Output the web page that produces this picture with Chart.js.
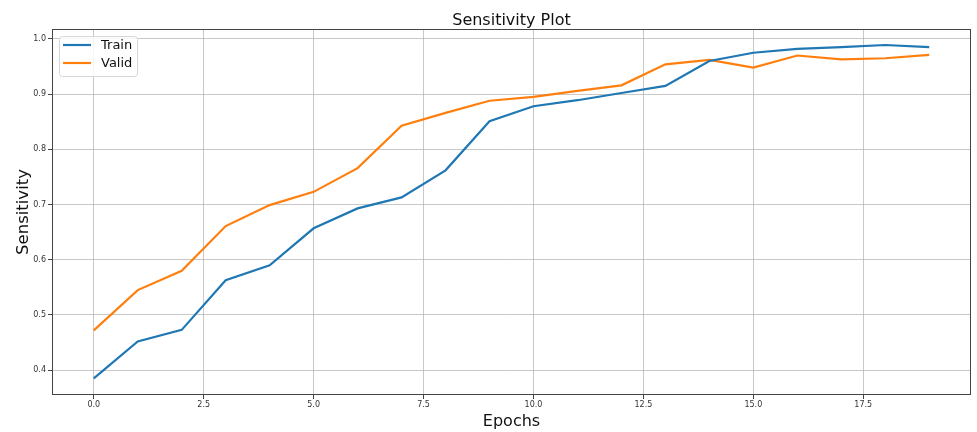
<!DOCTYPE html>
<html>
<head>
<meta charset="utf-8">
<script src="https://cdn.jsdelivr.net/npm/chart.js@4"></script>
<style>
html,body{margin:0;padding:0;background:#fff;}
canvas{display:block;}
</style>
</head>
<body>
<canvas id="c" width="977" height="432"></canvas>
<script>
const epochs = [0,1,2,3,4,5,6,7,8,9,10,11,12,13,14,15,16,17,18,19];
const trainSens = [0.385,0.452,0.473,0.563,0.590,0.657,0.693,0.713,0.762,0.851,0.878,0.889,0.902,0.915,0.960,0.975,0.982,0.985,0.989,0.985];
const validSens = [0.472,0.545,0.580,0.661,0.699,0.723,0.766,0.843,0.866,0.888,0.895,0.906,0.916,0.954,0.962,0.948,0.970,0.963,0.965,0.971];
const xTickValues = [0,2.5,5,7.5,10,12.5,15,17.5];
const yTickValues = [0.4,0.5,0.6,0.7,0.8,0.9,1.0];
const seriesNames = ['Train','Valid'];
const chartTitle = 'Sensitivity Plot';
const xTitle = 'Epochs';
const yTitle = 'Sensitivity';

const BLUE = '#1f77b4', ORANGE = '#ff7f0e';
const FONT = '"DejaVu Sans", sans-serif';

const framePlugin = {
  id: 'frameAndExtras',
  afterDatasetsDraw(chart) {
    const {ctx, chartArea: a} = chart;
    ctx.save();
    // frame
    ctx.strokeStyle = '#444';
    ctx.lineWidth = 1;
    ctx.strokeRect(Math.round(a.left) + 0.5, Math.round(a.top) + 0.5, Math.round(a.right - a.left) - 1, Math.round(a.bottom - a.top) - 1);
    // title
    ctx.fillStyle = '#111';
    ctx.font = '16px ' + FONT;
    ctx.textAlign = 'center';
    ctx.textBaseline = 'alphabetic';
    ctx.fillText(chartTitle, (a.left + a.right) / 2, a.top - 4);
    // legend
    const bx = a.left + 7, by = a.top + 7, bw = 78, bh = 40;
    ctx.fillStyle = 'rgba(255,255,255,0.85)';
    ctx.strokeStyle = '#d6d6d6';
    ctx.beginPath();
    if (ctx.roundRect) ctx.roundRect(bx + 0.5, by + 0.5, bw, bh, 3); else ctx.rect(bx + 0.5, by + 0.5, bw, bh);
    ctx.fill();
    ctx.stroke();
    const cols = [BLUE, ORANGE];
    ctx.font = '13px ' + FONT;
    ctx.textAlign = 'left';
    ctx.textBaseline = 'middle';
    seriesNames.forEach((n, i) => {
      const y = by + 9 + i * 18;
      ctx.strokeStyle = cols[i];
      ctx.lineWidth = 2.2;
      ctx.beginPath();
      ctx.moveTo(bx + 4, y);
      ctx.lineTo(bx + 32, y);
      ctx.stroke();
      ctx.fillStyle = '#111';
      ctx.fillText(n, bx + 42, y + 1);
    });
    ctx.restore();
  }
};

const toPts = arr => epochs.map((e, i) => ({x: e, y: arr[i]}));

new Chart(document.getElementById('c'), {
  type: 'line',
  data: {
    datasets: [
      {label: seriesNames[0], data: toPts(trainSens), borderColor: BLUE, backgroundColor: BLUE, borderWidth: 2.2, pointRadius: 0, tension: 0, fill: false},
      {label: seriesNames[1], data: toPts(validSens), borderColor: ORANGE, backgroundColor: ORANGE, borderWidth: 2.2, pointRadius: 0, tension: 0, fill: false}
    ]
  },
  options: {
    responsive: false,
    animation: false,
    devicePixelRatio: 1,
    layout: {padding: {top: 29, right: 6, left: 0, bottom: 0}},
    plugins: {legend: {display: false}, title: {display: false}, tooltip: {enabled: false}},
    scales: {
      x: {
        type: 'linear',
        min: -0.95, max: 19.95,
        afterBuildTicks: s => { s.ticks = xTickValues.map(v => ({value: v})); },
        afterFit: s => { s.height = 37; },
        ticks: {callback: v => v.toFixed(1), font: {family: FONT, size: 8}, color: '#333', padding: 1, maxRotation: 0, autoSkip: false},
        grid: {color: 'rgba(176,176,176,0.7)', lineWidth: 1, tickColor: '#444', tickLength: 4},
        border: {display: false},
        title: {display: true, text: xTitle, font: {family: FONT, size: 16}, color: '#111', padding: {top: 0, bottom: 1}}
      },
      y: {
        type: 'linear',
        min: 0.355, max: 1.018,
        afterBuildTicks: s => { s.ticks = yTickValues.map(v => ({value: v})); },
        afterFit: s => { s.width = 52; },
        ticks: {callback: v => v.toFixed(1), font: {family: FONT, size: 8}, color: '#333', padding: 2},
        grid: {color: 'rgba(176,176,176,0.7)', lineWidth: 1, tickColor: '#444', tickLength: 4},
        border: {display: false},
        title: {display: true, text: yTitle, font: {family: FONT, size: 16.5}, color: '#111', padding: {top: 14, bottom: 0}}
      }
    }
  },
  plugins: [framePlugin]
});
</script>
</body>
</html>
